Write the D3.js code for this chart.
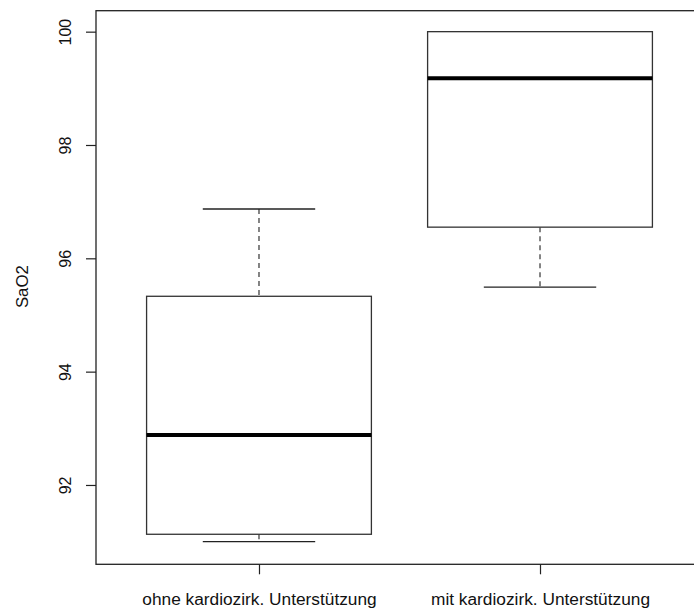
<!DOCTYPE html>
<html><head><meta charset="utf-8">
<script src="https://cdn.jsdelivr.net/npm/d3@7"></script>
<style>body{margin:0;background:#fff}svg{display:block}text{font-family:"Liberation Sans",Arial,sans-serif}</style>
</head><body>
<svg id="c" width="694" height="610"></svg>
<script>
const categories = ["ohne kardiozirk. Unterstützung", "mit kardiozirk. Unterstützung"];
const whiskerLow  = [91.0, 95.49];
const q1          = [91.13, 96.55];
const median      = [92.88, 99.18];
const q3          = [95.33, 100.0];
const whiskerHigh = [96.87, 100.0];
const yTicks = [92, 94, 96, 98, 100];
const yLabel = "SaO2";

(function(){
const svg = d3.select("#c");
const pLeft = 96, pRight = 703, pTop = 10.7, pBottom = 564.3;
const x = d3.scaleLinear().domain([0.42, 2.58]).range([pLeft, pRight]);
const y = d3.scaleLinear().domain([90.6, 100.37]).range([pBottom, pTop]);
const bw = 0.8;
const ff = '"Liberation Sans",Arial,sans-serif';

svg.append("rect").attr("x", pLeft).attr("y", pTop).attr("width", pRight-pLeft).attr("height", pBottom-pTop)
  .attr("fill","none").attr("stroke","#222").attr("stroke-width",1.3);

const ya = svg.append("g").attr("transform",`translate(${pLeft},0)`)
  .call(d3.axisLeft(y).tickValues(yTicks).tickSize(10).tickSizeOuter(0).tickFormat(d3.format("d")));
ya.select(".domain").remove();
ya.selectAll(".tick line").attr("stroke","#222").attr("stroke-width",1.2);
ya.selectAll(".tick text").attr("x",null).attr("dy",null)
  .attr("transform","translate(-31,0) rotate(-90)").attr("text-anchor","middle")
  .attr("dominant-baseline","central").attr("font-size",16).attr("fill","#111")
  .style("font-family",ff);

const xa = svg.append("g").attr("transform",`translate(0,${pBottom})`)
  .call(d3.axisBottom(x).tickValues([1,2]).tickSize(10).tickSizeOuter(0).tickFormat((d,i)=>categories[i]));
xa.select(".domain").remove();
xa.selectAll(".tick line").attr("stroke","#222").attr("stroke-width",1.2);
xa.selectAll(".tick text").attr("y",35).attr("dy",null).attr("dominant-baseline","central")
  .attr("font-size",17.3).attr("fill","#111").style("font-family",ff);

svg.append("text").attr("transform",`translate(22,${(y(91)+y(100))/2}) rotate(-90)`)
  .attr("text-anchor","middle").attr("dominant-baseline","central").attr("font-size",16.8).attr("fill","#111")
  .style("font-family",ff).text(yLabel);

const g = svg.append("g");
categories.forEach((c,i)=>{
  const cx = x(i+1), x0 = x(i+1-bw/2), x1 = x(i+1+bw/2);
  const c0 = x(i+1-bw/4), c1 = x(i+1+bw/4);
  g.append("line").attr("x1",cx).attr("x2",cx).attr("y1",y(whiskerHigh[i])).attr("y2",y(q3[i]))
    .attr("stroke","#333").attr("stroke-width",1.2).attr("stroke-dasharray","5,4");
  g.append("line").attr("x1",cx).attr("x2",cx).attr("y1",y(q1[i])).attr("y2",y(whiskerLow[i]))
    .attr("stroke","#333").attr("stroke-width",1.2).attr("stroke-dasharray","5,4");
  [whiskerLow[i], whiskerHigh[i]].forEach(v=>{
    g.append("line").attr("x1",c0).attr("x2",c1).attr("y1",y(v)).attr("y2",y(v))
      .attr("stroke","#222").attr("stroke-width",1.3);
  });
  g.append("rect").attr("x",x0).attr("width",x1-x0).attr("y",y(q3[i])).attr("height",y(q1[i])-y(q3[i]))
    .attr("fill","#fff").attr("stroke","#333").attr("stroke-width",1.3);
  g.append("line").attr("x1",x0).attr("x2",x1).attr("y1",y(median[i])).attr("y2",y(median[i]))
    .attr("stroke","#000").attr("stroke-width",4);
});
})();
</script>
</body></html>
